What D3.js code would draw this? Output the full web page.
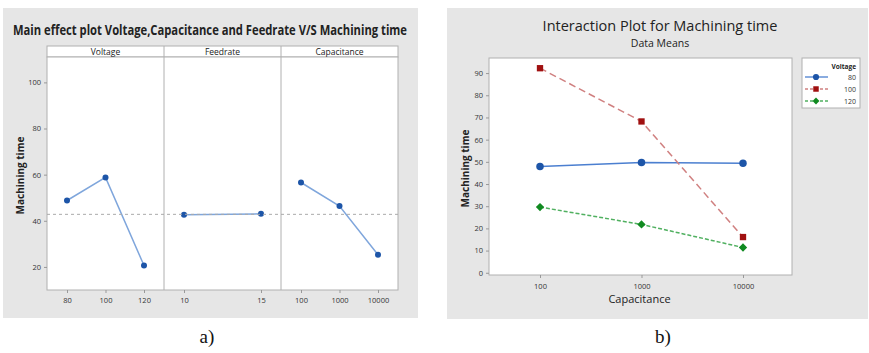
<!DOCTYPE html>
<html>
<head>
<meta charset="utf-8">
<script src="https://cdn.jsdelivr.net/npm/d3@7"></script>
<style>
  body { margin: 0; background: #fff; }
  text { font-family: "Open Sans", "Noto Sans", sans-serif; }
</style>
</head>
<body>
<script>
const width = 869;
const height = 353;

// a) main effects
const factors = ["Voltage", "Feedrate", "Capacitance"];
const factorLevels = [["80", "100", "120"], ["10", "15"], ["100", "1000", "10000"]];
const factorMeans = [[48.8, 58.8, 20.6], [42.6, 43.0], [56.6, 46.4, 25.3]];
const grandMean = 42.8;
const mainTicks = [20, 40, 60, 80, 100];

// b) interaction
const capLevels = ["100", "1000", "10000"];
const voltLevels = ["80", "100", "120"];
const interMeans = [
    [47.9, 49.7, 49.4],
    [92.2, 68.2, 16.1],
    [29.6, 21.8, 11.4]
];
const interTicks = [0, 10, 20, 30, 40, 50, 60, 70, 80, 90];

let svg = d3.select("body").append("svg")
    .attr("width", width)
    .attr("height", height);

// ---------- panel a ----------
const pa = { left: 47, right: 398, top: 57, bottom: 290 };

svg.append("rect")
    .attr("x", 3).attr("y", 8)
    .attr("width", 415).attr("height", 310)
    .attr("fill", "#e6e6e6");

svg.append("text")
    .attr("x", 13).attr("y", 35)
    .attr("textLength", 394)
    .attr("lengthAdjust", "spacingAndGlyphs")
    .style("font-size", "13.5px")
    .style("font-weight", "bold")
    .attr("fill", "#222")
    .text("Main effect plot Voltage,Capacitance and Feedrate V/S Machining time");

let yA = d3.scaleLinear()
    .domain([10, 111])
    .range([pa.bottom, pa.top]);

let panelX = d3.scaleBand()
    .domain(factors)
    .range([pa.left, pa.right]);

// header strip
svg.append("rect")
    .attr("x", pa.left).attr("y", 46)
    .attr("width", pa.right - pa.left).attr("height", 11)
    .attr("fill", "#fff")
    .attr("stroke", "#b0b0b0");

svg.append("rect")
    .attr("x", pa.left).attr("y", pa.top)
    .attr("width", pa.right - pa.left).attr("height", pa.bottom - pa.top)
    .attr("fill", "#fff")
    .attr("stroke", "#b0b0b0");

let yAxisA = svg.append("g")
    .attr("transform", `translate(${pa.left},0)`)
    .call(d3.axisLeft(yA).tickValues(mainTicks).tickSize(3));
yAxisA.select(".domain").remove();
yAxisA.selectAll("line").attr("stroke", "#999");
yAxisA.selectAll("text").attr("fill", "#333").style("font-size", "7.5px");

svg.append("text")
    .attr("transform", `translate(24,${(pa.top + pa.bottom) / 2 + 2}) rotate(-90)`)
    .attr("text-anchor", "middle")
    .style("font-size", "10px")
    .style("font-weight", "bold")
    .attr("fill", "#222")
    .text("Machining time");

factors.forEach((f, i) => {
    let x0 = panelX(f);
    let bw = panelX.bandwidth();
    if (i > 0) {
        svg.append("line")
            .attr("x1", x0).attr("x2", x0)
            .attr("y1", 46).attr("y2", pa.bottom)
            .attr("stroke", "#b0b0b0");
    }
    svg.append("text")
        .attr("x", x0 + bw / 2).attr("y", 54.8)
        .attr("text-anchor", "middle")
        .style("font-size", "8.5px")
        .attr("fill", "#222")
        .text(f);

    let xs = d3.scalePoint()
        .domain(factorLevels[i])
        .range([x0 + 20, x0 + bw - 20]);

    let xAx = svg.append("g")
        .attr("transform", `translate(0,${pa.bottom})`)
        .call(d3.axisBottom(xs).tickSize(3));
    xAx.select(".domain").remove();
    xAx.selectAll("line").attr("stroke", "#999");
    xAx.selectAll("text").attr("fill", "#333").style("font-size", "7.5px").attr("dy", "0.9em");

    let pts = factorLevels[i].map((l, j) => ({ l: l, v: factorMeans[i][j] }));
    svg.append("path")
        .datum(pts)
        .attr("fill", "none")
        .attr("stroke", "#7fa6dc")
        .attr("stroke-width", 1.5)
        .attr("d", d3.line().x(d => xs(d.l)).y(d => yA(d.v)));
    svg.selectAll(null)
        .data(pts)
        .enter().append("circle")
        .attr("cx", d => xs(d.l))
        .attr("cy", d => yA(d.v))
        .attr("r", 3)
        .attr("fill", "#1d55a8");
});

svg.append("line")
    .attr("x1", pa.left).attr("x2", pa.right)
    .attr("y1", yA(grandMean)).attr("y2", yA(grandMean))
    .attr("stroke", "#aaa")
    .attr("stroke-dasharray", "3,3");

svg.append("text")
    .attr("x", 207).attr("y", 343)
    .attr("text-anchor", "middle")
    .style("font-family", "'Liberation Serif', serif")
    .style("font-size", "19px")
    .attr("fill", "#111")
    .text("a)");

// ---------- panel b ----------
const pb = { left: 489, right: 792, top: 58, bottom: 275 };

svg.append("rect")
    .attr("x", 447).attr("y", 8)
    .attr("width", 421).attr("height", 311)
    .attr("fill", "#e6e6e6");

svg.append("text")
    .attr("x", 660).attr("y", 31)
    .attr("text-anchor", "middle")
    .style("font-size", "14.5px")
    .attr("fill", "#222")
    .text("Interaction Plot for Machining time");

svg.append("text")
    .attr("x", 660).attr("y", 47)
    .attr("text-anchor", "middle")
    .style("font-size", "10.5px")
    .attr("fill", "#222")
    .text("Data Means");

svg.append("rect")
    .attr("x", pb.left).attr("y", pb.top)
    .attr("width", pb.right - pb.left).attr("height", pb.bottom - pb.top)
    .attr("fill", "#fff")
    .attr("stroke", "#b0b0b0");

let yB = d3.scaleLinear()
    .domain([-1, 96.8])
    .range([pb.bottom, pb.top]);

let xB = d3.scalePoint()
    .domain(capLevels)
    .range([pb.left + 51, pb.right - 49]);

let yAxisB = svg.append("g")
    .attr("transform", `translate(${pb.left},0)`)
    .call(d3.axisLeft(yB).tickValues(interTicks).tickSize(3));
yAxisB.select(".domain").remove();
yAxisB.selectAll("line").attr("stroke", "#999");
yAxisB.selectAll("text").attr("fill", "#333").style("font-size", "7.5px");

let xAxisB = svg.append("g")
    .attr("transform", `translate(0,${pb.bottom})`)
    .call(d3.axisBottom(xB).tickSize(3));
xAxisB.select(".domain").remove();
xAxisB.selectAll("line").attr("stroke", "#999");
xAxisB.selectAll("text").attr("fill", "#333").style("font-size", "7.5px").attr("dy", "1.1em");

svg.append("text")
    .attr("x", (pb.left + pb.right) / 2 - 1).attr("y", 303)
    .attr("text-anchor", "middle")
    .style("font-size", "11px")
    .attr("fill", "#222")
    .text("Capacitance");

svg.append("text")
    .attr("transform", `translate(469,${(pb.top + pb.bottom) / 2 + 2}) rotate(-90)`)
    .attr("text-anchor", "middle")
    .style("font-size", "10px")
    .style("font-weight", "bold")
    .attr("fill", "#222")
    .text("Machining time");

const lineColors = ["#4b7fd0", "#d08080", "#50b060"];
const markColors = ["#1d55a8", "#a01010", "#108a20"];
const dashes = [null, "7,4", "4,2"];
const symbols = [d3.symbolCircle, d3.symbolSquare, d3.symbolDiamond2];

voltLevels.forEach((v, i) => {
    let pts = capLevels.map((c, j) => ({ c: c, v: interMeans[i][j] }));
    svg.append("path")
        .datum(pts)
        .attr("fill", "none")
        .attr("stroke", lineColors[i])
        .attr("stroke-width", 1.5)
        .attr("stroke-dasharray", dashes[i])
        .attr("d", d3.line().x(d => xB(d.c)).y(d => yB(d.v)));
    svg.selectAll(null)
        .data(pts)
        .enter().append("path")
        .attr("transform", d => `translate(${xB(d.c)},${yB(d.v)})`)
        .attr("d", d3.symbol().type(symbols[i]).size(i === 1 ? 40 : 44))
        .attr("fill", markColors[i]);
});

// legend
let lg = svg.append("g");
lg.append("rect")
    .attr("x", 802).attr("y", 58)
    .attr("width", 58).attr("height", 50)
    .attr("fill", "#fff")
    .attr("stroke", "#b0b0b0");
lg.append("text")
    .attr("x", 856).attr("y", 69)
    .attr("text-anchor", "end")
    .style("font-size", "6.5px")
    .style("font-weight", "bold")
    .attr("fill", "#222")
    .text("Voltage");
voltLevels.forEach((v, i) => {
    let ly = 77 + i * 12;
    lg.append("line")
        .attr("x1", 805).attr("x2", 828)
        .attr("y1", ly).attr("y2", ly)
        .attr("stroke", lineColors[i])
        .attr("stroke-width", 1.3)
        .attr("stroke-dasharray", dashes[i] ? "3,2" : null);
    lg.append("path")
        .attr("transform", `translate(816,${ly})`)
        .attr("d", d3.symbol().type(symbols[i]).size(30))
        .attr("fill", markColors[i]);
    lg.append("text")
        .attr("x", 856).attr("y", ly + 2.5)
        .attr("text-anchor", "end")
        .style("font-size", "7px")
        .attr("fill", "#333")
        .text(v);
});

svg.append("text")
    .attr("x", 663).attr("y", 343)
    .attr("text-anchor", "middle")
    .style("font-family", "'Liberation Serif', serif")
    .style("font-size", "19px")
    .attr("fill", "#111")
    .text("b)");
</script>
</body>
</html>
